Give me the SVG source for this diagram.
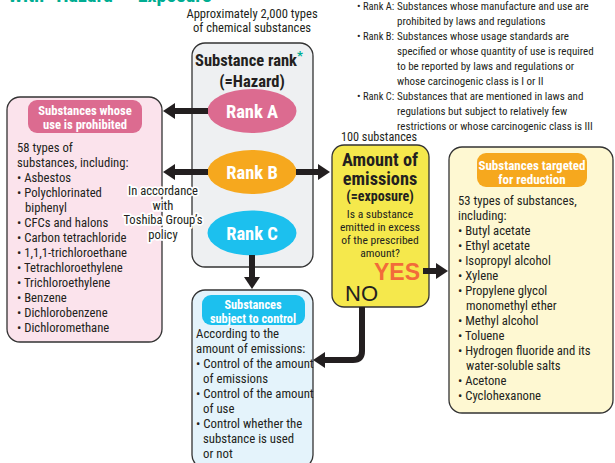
<svg xmlns="http://www.w3.org/2000/svg" width="615" height="463" viewBox="0 0 615 463">
<style>
text{font-family:"Liberation Sans Narrow","Roboto Condensed","Liberation Sans",sans-serif;fill:#231f20}
.b{font-weight:bold}
.w{fill:#fff;font-weight:bold}
.m{text-anchor:middle}
.t13{font-size:12.7px}
.note{font-size:11px}
.lab{font-size:10.5px}
.box{stroke:#333;stroke-width:1.3}
.shaft{stroke:#231f20;stroke-width:6;fill:none}
.halo{paint-order:stroke;stroke:#fff;stroke-width:3.5px;stroke-linejoin:round}
</style>
<defs>
<marker id="ah" viewBox="0 0 12 16" refX="0" refY="8" markerWidth="12" markerHeight="16" markerUnits="userSpaceOnUse" orient="auto">
<path d="M0,0 L12,8 L0,16 z" fill="#231f20"/>
</marker>
</defs>
<rect width="615" height="463" fill="#fff"/>
<text x="8" y="1.5" class="b" style="font-size:20px;fill:#00ad92">With “Hazard”×“Exposure”</text>
<g id="intro">
<text x="252" y="18" class="m" style="font-size:12.6px">Approximately 2,000 types</text>
<text x="252" y="32" class="m" style="font-size:12.6px">of chemical substances</text>
</g>
<g id="notes" class="note">
<text x="357" y="10" class="lab">• Rank A:</text><text x="397" y="10">Substances whose manufacture and use are</text>
<text x="397" y="25">prohibited by laws and regulations</text>
<text x="357" y="40" class="lab">• Rank B:</text><text x="397" y="40">Substances whose usage standards are</text>
<text x="397" y="55">specified or whose quantity of use is required</text>
<text x="397" y="70">to be reported by laws and regulations or</text>
<text x="397" y="85">whose carcinogenic class is I or II</text>
<text x="357" y="100" class="lab">• Rank C:</text><text x="397" y="100">Substances that are mentioned in laws and</text>
<text x="397" y="115">regulations but subject to relatively few</text>
<text x="397" y="130">restrictions or whose carcinogenic class is III</text>
</g>
<g id="rank-box">
<rect x="192" y="43" width="121" height="224" rx="13" fill="#eef0f2" class="box"/>
<text x="249" y="66" class="b m" style="font-size:16.5px">Substance rank<tspan dy="-6" style="fill:#00ad92;font-size:13px">*</tspan></text>
<text x="252" y="87" class="b m" style="font-size:16.5px">(=Hazard)</text>
</g>
<g id="rank-a">
<ellipse cx="252" cy="111" rx="44.5" ry="22" fill="#dc6b90"/>
<text x="252" y="118" class="w m" style="font-size:18.5px">Rank A</text>
</g>
<g id="rank-b">
<ellipse cx="252" cy="172" rx="44.5" ry="22" fill="#f6a81e"/>
<text x="252" y="179" class="w m" style="font-size:18.5px">Rank B</text>
</g>
<g id="rank-c">
<ellipse cx="252" cy="233" rx="44.5" ry="22.5" fill="#1cc0ee"/>
<text x="252" y="240" class="w m" style="font-size:18.5px">Rank C</text>
</g>
<g id="prohibited">
<rect x="7" y="97" width="155" height="245" rx="13" fill="#fbe3ec" class="box"/>
<rect x="28" y="100" width="114" height="33" rx="9" fill="#dc6b90"/>
<text x="85" y="115" class="w m" style="font-size:12.6px">Substances whose</text>
<text x="85" y="129" class="w m" style="font-size:12.6px">use is prohibited</text>
<g class="t13">
<text x="17" y="152">58 types of</text>
<text x="17" y="167">substances, including:</text>
<text x="17" y="182">• Asbestos</text>
<text x="17" y="197">• Polychlorinated</text>
<text x="25" y="212">biphenyl</text>
<text x="17" y="227">• CFCs and halons</text>
<text x="17" y="242">• Carbon tetrachloride</text>
<text x="17" y="257">• 1,1,1-trichloroethane</text>
<text x="17" y="272">• Tetrachloroethylene</text>
<text x="17" y="287">• Trichloroethylene</text>
<text x="17" y="302">• Benzene</text>
<text x="17" y="317">• Dichlorobenzene</text>
<text x="17" y="332">• Dichloromethane</text>
</g>
</g>
<g id="control">
<rect x="192" y="290" width="121" height="178" rx="13" fill="#e4f3fb" class="box"/>
<rect x="202" y="295" width="103" height="30" rx="9" fill="#1cc0ee"/>
<text x="253" y="308.5" class="w m" style="font-size:12.3px">Substances</text>
<text x="253" y="322.5" class="w m" style="font-size:12.3px">subject to control</text>
<g style="font-size:12.8px">
<text x="196" y="338">According to the</text>
<text x="196" y="353">amount of emissions:</text>
<text x="196" y="368">• Control of the amount</text>
<text x="203" y="383">of emissions</text>
<text x="196" y="398">• Control of the amount</text>
<text x="203" y="413">of use</text>
<text x="196" y="428">• Control whether the</text>
<text x="203" y="443">substance is used</text>
<text x="203" y="458">or not</text>
</g>
</g>
<g id="emissions">
<text x="341" y="141" style="font-size:12.2px">100 substances</text>
<rect x="332" y="145" width="97" height="162" rx="12" fill="#f5e84c" class="box"/>
<text x="380" y="166" class="b m" style="font-size:18.3px">Amount of</text>
<text x="380" y="185" class="b m" style="font-size:18.3px">emissions</text>
<text x="380" y="201" class="b m" style="font-size:14px">(=exposure)</text>
<text x="380" y="218" class="m" style="font-size:11.6px">Is a substance</text>
<text x="380" y="231" class="m" style="font-size:11.6px">emitted in excess</text>
<text x="380" y="244" class="m" style="font-size:11.6px">of the prescribed</text>
<text x="380" y="257" class="m" style="font-size:11.6px">amount?</text>
<text x="374" y="280" class="b" style="font-size:23px;fill:#f26b3a;font-family:'Liberation Sans',sans-serif">YES</text>
<text x="345" y="301" style="font-size:22px;font-family:'Liberation Sans',sans-serif">NO</text>
</g>
<g id="reduction">
<rect x="449" y="147" width="164" height="266" rx="13" fill="#fef8d2" class="box"/>
<rect x="477" y="153" width="110" height="34" rx="9" fill="#f6a81e"/>
<text x="532" y="170" class="w m" style="font-size:13px">Substances targeted</text>
<text x="532" y="184" class="w m" style="font-size:13px">for reduction</text>
<g class="t13">
<text x="458" y="205">53 types of substances,</text>
<text x="458" y="220">including:</text>
<text x="458" y="235">• Butyl acetate</text>
<text x="458" y="250">• Ethyl acetate</text>
<text x="458" y="265">• Isopropyl alcohol</text>
<text x="458" y="280">• Xylene</text>
<text x="458" y="295">• Propylene glycol</text>
<text x="466" y="310">monomethyl ether</text>
<text x="458" y="325">• Methyl alcohol</text>
<text x="458" y="340">• Toluene</text>
<text x="458" y="355">• Hydrogen fluoride and its</text>
<text x="466" y="370">water-soluble salts</text>
<text x="458" y="385">• Acetone</text>
<text x="458" y="400">• Cyclohexanone</text>
</g>
</g>
<g id="connectors">
<line x1="208" y1="111" x2="175" y2="111" class="shaft" marker-end="url(#ah)"/>
<line x1="208" y1="172" x2="175" y2="172" class="shaft" marker-end="url(#ah)"/>
<line x1="296" y1="172" x2="318" y2="172" class="shaft" marker-end="url(#ah)"/>
<line x1="252" y1="255" x2="252" y2="277" class="shaft" marker-end="url(#ah)"/>
<line x1="423" y1="271" x2="436" y2="271" class="shaft" marker-end="url(#ah)"/>
<path d="M362,307 V351 Q362,360 353,360 H325" class="shaft" marker-end="url(#ah)"/>
<g class="m halo" style="font-size:12.6px">
<text x="163" y="195">In accordance</text>
<text x="163" y="210">with</text>
<text x="163" y="224">Toshiba Group’s</text>
<text x="163" y="239">policy</text>
</g>
</g>
</svg>
